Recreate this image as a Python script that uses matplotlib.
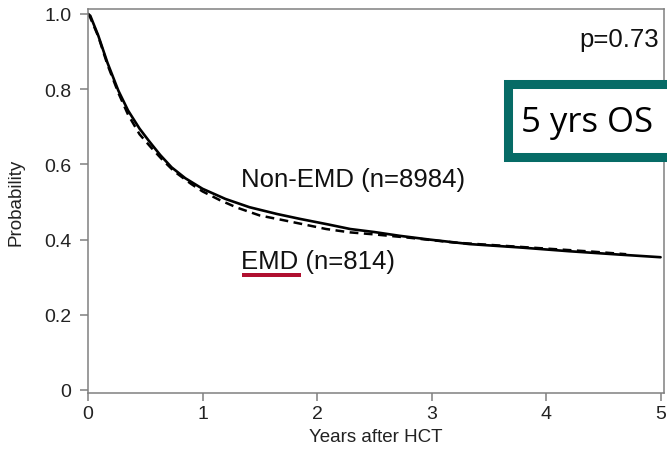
import matplotlib
matplotlib.use("Agg")
import matplotlib.pyplot as plt
from matplotlib.patches import Rectangle

plt.rcParams['font.family'] = ['Liberation Sans', 'DejaVu Sans']

# Non-EMD (solid)
t_non = [0, 0.02, 0.09, 0.17, 0.265, 0.35, 0.45, 0.53, 0.63, 0.73, 0.85, 1.0,
         1.2, 1.41, 1.65, 1.85, 2.1, 2.29, 2.5, 2.72, 2.98, 3.33, 3.77, 4.2, 4.64, 5.0]
p_non = [1.0, 0.995, 0.942, 0.87, 0.796, 0.743, 0.695, 0.663, 0.625, 0.592, 0.563, 0.535,
         0.508, 0.486, 0.468, 0.455, 0.44, 0.428, 0.42, 0.41, 0.40, 0.388, 0.379, 0.369, 0.36, 0.353]
# EMD (dashed)
t_emd = [0, 0.02, 0.09, 0.17, 0.265, 0.35, 0.45, 0.55, 0.65, 0.75, 0.9, 1.0, 1.15,
         1.3, 1.5, 1.73, 2.08, 2.29, 2.49, 2.8, 3.2, 3.6, 4.0, 4.4, 4.7]
p_emd = [1.0, 0.99, 0.94, 0.865, 0.79, 0.732, 0.68, 0.645, 0.612, 0.582, 0.548, 0.528, 0.505,
         0.485, 0.464, 0.45, 0.428, 0.419, 0.414, 0.405, 0.392, 0.384, 0.376, 0.368, 0.361]

x_ticks = [0, 1, 2, 3, 4, 5]
y_ticks = [0, 0.2, 0.4, 0.6, 0.8, 1.0]
y_tick_labels = ['0', '0.2', '0.4', '0.6', '0.8', '1.0']

W, H = 667, 456
fig = plt.figure(figsize=(W / 100, H / 100), dpi=100)
ax = fig.add_axes([88 / W, 1 - 394 / H, (664 - 88) / W, (394 - 10) / H])

ax.plot(t_non, p_non, color='black', lw=1.9, solid_capstyle='round')
ax.plot(t_emd, p_emd, color='black', lw=1.8, linestyle=(0, (3.5, 2.2)))

ax.set_xlim(0, 5.03)
ax.set_ylim(-0.008, 1.013)
ax.set_xticks(x_ticks)
ax.set_xticklabels([str(v) for v in x_ticks])
ax.set_yticks(y_ticks)
ax.set_yticklabels(y_tick_labels)

gray = '#808080'
for s in ax.spines.values():
    s.set_color(gray)
    s.set_linewidth(1.1)
ax.tick_params(direction='out', length=6, width=1.1, color=gray,
               labelsize=14, labelcolor='#222222', pad=3)
ax.tick_params(axis='y', pad=6)

ax.set_xlabel('Years after HCT', fontsize=13.5, color='#222222', labelpad=4)
ax.set_ylabel('Probability', fontsize=13.5, color='#222222', labelpad=14)

ax.text(1.34, 0.56, 'Non-EMD (n=8984)', fontsize=18.5, color='#111111', va='center', ha='left')
ax.text(1.34, 0.342, 'EMD (n=814)', fontsize=18.5, color='#111111', va='center', ha='left')
ax.text(4.99, 0.933, 'p=0.73', fontsize=18.5, color='#111111', va='center', ha='right')

# red underline under EMD
fig.add_artist(Rectangle((242 / W, 1 - 278 / H), (301 - 242) / W, 4 / H,
                         transform=fig.transFigure, facecolor='#b01030', edgecolor='none'))

# teal box "5 yrs OS"
fig.add_artist(Rectangle((507.5 / W, 1 - 158 / H), (700 - 507.5) / W, (158 - 84.5) / H,
                         transform=fig.transFigure, facecolor='white', edgecolor='#066b66',
                         linewidth=6.5, clip_on=False))
fig.text(587 / W, 1 - 123 / H, '5 yrs OS', fontsize=25, family=['Open Sans', 'DejaVu Sans'],
         color='black', ha='center', va='center')

fig.savefig('out.png', dpi=100)
